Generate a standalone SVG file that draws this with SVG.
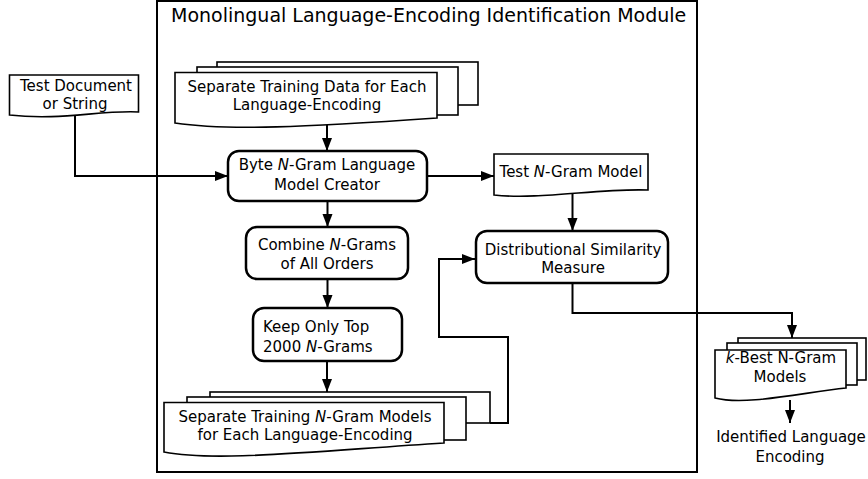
<svg xmlns="http://www.w3.org/2000/svg" width="868" height="479" viewBox="0 0 868 479">
<style>
text{font-family:"DejaVu Sans","Liberation Sans",sans-serif;font-size:15px;fill:#000;text-anchor:middle}
.it{font-style:italic}
.rbox{fill:#fff;stroke:#000;stroke-width:2.5}
.doc{fill:#fff;stroke:#000;stroke-width:1.6}
.con{fill:none;stroke:#000;stroke-width:2}
</style>
<defs>
<marker id="ah" markerUnits="userSpaceOnUse" markerWidth="14" markerHeight="11" refX="13" refY="5" orient="auto">
<path d="M0,0 L13,5 L0,10 Z" fill="#000"/>
</marker>
</defs>
<rect width="868" height="479" fill="#fff"/>
<g id="module">
<rect x="157" y="1" width="540" height="471" fill="none" stroke="#000" stroke-width="2"/>
<text x="171" y="22" style="font-size:19px;text-anchor:start">Monolingual Language-Encoding Identification Module</text>
</g>
<g id="connectors">
<path class="con" d="M75,116 V176 H228" marker-end="url(#ah)"/>
<path class="con" d="M327,125 V151" marker-end="url(#ah)"/>
<path class="con" d="M427,176 H494" marker-end="url(#ah)"/>
<path class="con" d="M572.5,192 V231" marker-end="url(#ah)"/>
<path class="con" d="M327.5,201 V227" marker-end="url(#ah)"/>
<path class="con" d="M327.5,279 V308" marker-end="url(#ah)"/>
<path class="con" d="M327,361 V392" marker-end="url(#ah)"/>
<path class="con" d="M490,423 H508 V337 H439 V259 H475" marker-end="url(#ah)"/>
<path class="con" d="M572.5,283 V313 H792 V338" marker-end="url(#ah)"/>
<path class="con" d="M790,400 V423" marker-end="url(#ah)"/>
</g>
<g id="test-document">
<path class="doc" d="M9.5,75 H138.5 V112 C100,110 60,121 9.5,115 Z"/>
<text x="76" y="91">Test Document</text>
<text x="75" y="109">or String</text>
</g>
<g id="training-data">
<rect class="doc" x="217" y="62" width="261" height="43"/>
<rect class="doc" x="197" y="67" width="261" height="48"/>
<path class="doc" d="M175,72.5 H437 V118 C306,127 227,131 175,123 Z"/>
<text x="307" y="92">Separate Training Data for Each</text>
<text x="307" y="110">Language-Encoding</text>
</g>
<g id="byte-creator">
<rect class="rbox" x="228" y="151" width="199" height="50" rx="11"/>
<text x="327" y="170">Byte <tspan class="it">N</tspan>-Gram Language</text>
<text x="327" y="190">Model Creator</text>
</g>
<g id="test-ngram">
<path class="doc" d="M494,154 H648 V190 C600,188 540,200 494,195 Z"/>
<text x="571" y="177">Test <tspan class="it">N</tspan>-Gram Model</text>
</g>
<g id="distributional">
<rect class="rbox" x="476" y="231" width="192" height="52" rx="11"/>
<text x="573" y="255">Distributional Similarity</text>
<text x="573" y="273">Measure</text>
</g>
<g id="combine">
<rect class="rbox" x="246" y="227" width="162" height="52" rx="11"/>
<text x="327" y="250">Combine <tspan class="it">N</tspan>-Grams</text>
<text x="327" y="269">of All Orders</text>
</g>
<g id="keep-top">
<rect class="rbox" x="253" y="308" width="149" height="53" rx="11"/>
<text x="263" y="332" style="text-anchor:start">Keep Only Top</text>
<text x="263" y="352" style="text-anchor:start">2000 <tspan class="it">N</tspan>-Grams</text>
</g>
<g id="training-models">
<rect class="doc" x="210" y="392" width="280" height="31"/>
<rect class="doc" x="187" y="397" width="279" height="43"/>
<path class="doc" d="M164,402.5 H444 V443 C304,452 215,462 164,452 Z"/>
<text x="305" y="422">Separate Training <tspan class="it">N</tspan>-Gram Models</text>
<text x="305" y="440">for Each Language-Encoding</text>
</g>
<g id="k-best">
<rect class="doc" x="738" y="338" width="128" height="42"/>
<rect class="doc" x="727" y="343" width="130" height="42"/>
<path class="doc" d="M715,350 H846 V388 C800,393 745,406 715,398 Z"/>
<text x="781" y="363"><tspan class="it">k</tspan>-Best N-Gram</text>
<text x="780" y="382">Models</text>
</g>
<g id="identified">
<text x="791" y="442">Identified Language</text>
<text x="790" y="462">Encoding</text>
</g>
</svg>
